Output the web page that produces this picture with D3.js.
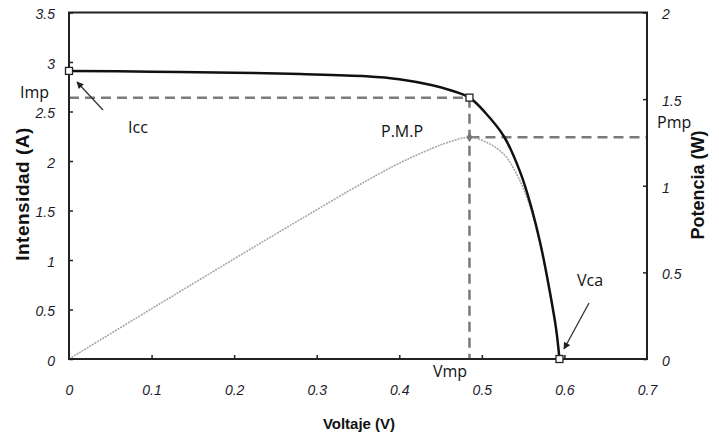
<!DOCTYPE html>
<html>
<head>
<meta charset="utf-8">
<script src="https://cdn.jsdelivr.net/npm/d3@7"></script>
<style>
  body { margin: 0; background: #fff; }
  svg { display: block; }
</style>
</head>
<body>
<svg id="chart" width="719" height="434"></svg>
<script>
// values
const voltage  = [0, 0.1, 0.2, 0.28, 0.36, 0.40, 0.44, 0.462, 0.485, 0.505, 0.527, 0.547, 0.559, 0.571, 0.581, 0.590, 0.594];
const current  = [2.91, 2.902, 2.892, 2.878, 2.856, 2.826, 2.765, 2.715, 2.64, 2.48, 2.245, 1.875, 1.56, 1.16, 0.74, 0.30, 0];
const power    = [0, 0.29, 0.578, 0.805, 1.028, 1.13, 1.216, 1.255, 1.28, 1.252, 1.18, 1.02, 0.87, 0.66, 0.42, 0.17, 0];
const xTicks   = [0, 0.1, 0.2, 0.3, 0.4, 0.5, 0.6, 0.7];
const yTicks   = [0, 0.5, 1, 1.5, 2, 2.5, 3, 3.5];
const y2Ticks  = [0, 0.5, 1, 1.5, 2];
const Vmp = 0.485, Imp = 2.64, Pmp = 1.28, Voc = 0.594, Isc = 2.91;

const svg = d3.select("#chart");
const plotLeft = 69, plotRight = 647, plotTop = 12.5, plotBottom = 359;

const x  = d3.scaleLinear().domain([0, 0.7]).range([plotLeft, plotRight]);
const y  = d3.scaleLinear().domain([0, 3.5]).range([plotBottom, plotTop]);
const y2 = d3.scaleLinear().domain([0, 2]).range([plotBottom, plotTop]);

const ink = "#222";
const tickFont = "'Liberation Sans', Arial, sans-serif";

// dashed guides
const guides = svg.append("g")
  .attr("stroke", "#7a7a7a")
  .attr("stroke-width", 2.5)
  .attr("stroke-dasharray", "10,6")
  .attr("fill", "none");
guides.append("line").attr("x1", x(0)).attr("x2", x(Vmp)).attr("y1", y(Imp)).attr("y2", y(Imp));
guides.append("line").attr("x1", x(Vmp)).attr("x2", x(Vmp)).attr("y1", y(Imp)).attr("y2", y(0));
guides.append("line").attr("x1", x(Vmp)).attr("x2", x(0.7)).attr("y1", y2(Pmp)).attr("y2", y2(Pmp));

// power curve
const pLine = d3.line()
  .x((d, i) => x(voltage[i]))
  .y(d => y2(d))
  .curve(d3.curveCatmullRom.alpha(0.5));
svg.append("path")
  .attr("d", pLine(power))
  .attr("fill", "none")
  .attr("stroke", "#a8a8a8")
  .attr("stroke-width", 1.6)
  .attr("stroke-dasharray", "2,1");

// I-V curve
const iLine = d3.line()
  .x((d, i) => x(voltage[i]))
  .y(d => y(d))
  .curve(d3.curveCatmullRom.alpha(0.5));
svg.append("path")
  .attr("d", iLine(current))
  .attr("fill", "none")
  .attr("stroke", "#111")
  .attr("stroke-width", 2.5);

// frame
svg.append("rect")
  .attr("x", plotLeft).attr("y", plotTop)
  .attr("width", plotRight - plotLeft).attr("height", plotBottom - plotTop)
  .attr("fill", "none").attr("stroke", ink).attr("stroke-width", 2);

// axes
const xAxis = svg.append("g").attr("transform", `translate(0,${plotBottom})`)
  .call(d3.axisBottom(x).tickValues(xTicks).tickSize(-4).tickPadding(26).tickFormat(d3.format("")));
const yAxis = svg.append("g").attr("transform", `translate(${plotLeft},0)`)
  .call(d3.axisLeft(y).tickValues(yTicks).tickSize(-4).tickPadding(14).tickFormat(d3.format("")));
const y2Axis = svg.append("g").attr("transform", `translate(${plotRight},0)`)
  .call(d3.axisRight(y2).tickValues(y2Ticks).tickSize(-4).tickPadding(15).tickFormat(d3.format("")));

[xAxis, yAxis, y2Axis].forEach(a => {
  a.select(".domain").remove();
  a.selectAll(".tick line").attr("stroke", ink).attr("stroke-width", 1.5);
  a.selectAll("text")
    .attr("fill", "#1c1c2c")
    .attr("font-family", tickFont)
    .attr("font-style", "italic")
    .attr("font-size", 14);
});
xAxis.selectAll(".tick line").filter(d => d === 0 || d === 0.7).remove();
yAxis.selectAll(".tick text").attr("dy", "0.45em");
y2Axis.selectAll(".tick text").attr("dy", "0.45em");

// markers
const squares = [[Isc, 0], [Imp, Vmp], [0, Voc]];
svg.append("g").selectAll("rect")
  .data(squares)
  .join("rect")
  .attr("x", d => x(d[1]) - 3.5)
  .attr("y", d => y(d[0]) - 3.5)
  .attr("width", 7).attr("height", 7)
  .attr("fill", "#fff").attr("stroke", "#222").attr("stroke-width", 1.3);
svg.append("path")
  .attr("d", d3.symbol(d3.symbolDiamond, 30)())
  .attr("transform", `translate(${x(Vmp)},${y2(Pmp)})`)
  .attr("fill", "#777");

// arrows
svg.append("defs").append("marker")
  .attr("id", "head")
  .attr("viewBox", "0 0 10 10")
  .attr("refX", 9).attr("refY", 5)
  .attr("markerWidth", 9).attr("markerHeight", 7)
  .attr("orient", "auto")
  .attr("markerUnits", "userSpaceOnUse")
  .append("path").attr("d", "M0,0 L10,5 L0,10 z").attr("fill", "#222");
const arrows = [[103, 110, 77, 82], [589, 303, 564, 349]];
svg.append("g").selectAll("line")
  .data(arrows)
  .join("line")
  .attr("x1", d => d[0]).attr("y1", d => d[1])
  .attr("x2", d => d[2]).attr("y2", d => d[3])
  .attr("stroke", "#333").attr("stroke-width", 1.3)
  .attr("marker-end", "url(#head)");

// annotations
const notes = [
  ["Imp", 20, 98],
  ["Icc", 128, 133],
  ["P.M.P", 381, 137],
  ["Pmp", 657, 128],
  ["Vca", 577, 286],
  ["Vmp", 433, 377]
];
svg.append("g").selectAll("text")
  .data(notes)
  .join("text")
  .attr("x", d => d[1]).attr("y", d => d[2])
  .attr("font-family", "'Open Sans', 'Noto Sans', sans-serif")
  .attr("font-size", 16)
  .attr("fill", "#111")
  .text(d => d[0]);

// axis titles
const titleFont = "'Liberation Sans', Arial, sans-serif";
svg.append("text")
  .attr("transform", "translate(29,194) rotate(-90)")
  .attr("text-anchor", "middle")
  .attr("font-family", titleFont).attr("font-weight", "bold").attr("font-size", 19)
  .attr("fill", "#111").attr("letter-spacing", 0.5)
  .text("Intensidad (A)");
svg.append("text")
  .attr("transform", "translate(704,185) rotate(-90)")
  .attr("text-anchor", "middle")
  .attr("font-family", titleFont).attr("font-weight", "bold").attr("font-size", 18)
  .attr("fill", "#111")
  .text("Potencia (W)");
svg.append("text")
  .attr("x", 359).attr("y", 429)
  .attr("text-anchor", "middle")
  .attr("font-family", titleFont).attr("font-weight", "bold").attr("font-size", 15)
  .attr("fill", "#111")
  .text("Voltaje (V)");
</script>
</body>
</html>
